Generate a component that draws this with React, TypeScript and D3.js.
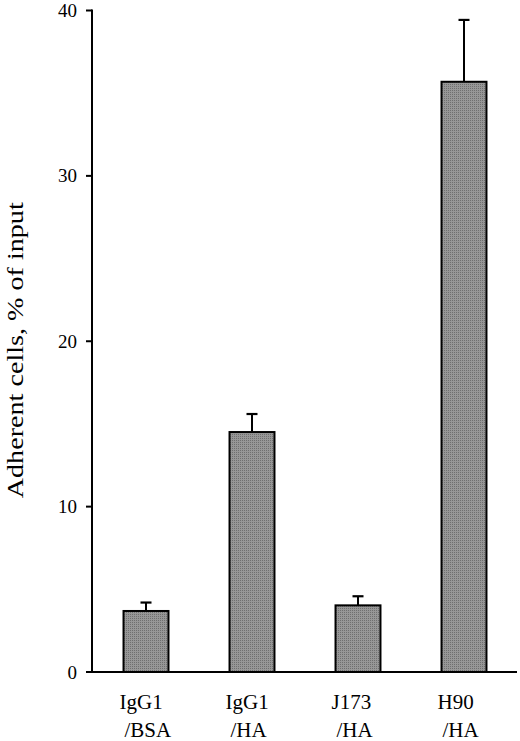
import React from "react";
import * as d3 from "d3";

const categories = ["IgG1/BSA", "IgG1/HA", "J173/HA", "H90/HA"];
const labelLine1 = ["IgG1", "IgG1", "J173", "H90"];
const labelLine2 = ["/BSA", "/HA", "/HA", "/HA"];
const means = [3.69, 14.51, 4.03, 35.69];
const errTops = [4.2, 15.6, 4.58, 39.43];
const yTicks = [0, 10, 20, 30, 40];
const yTitle = "Adherent cells, % of input";

const W = 520;
const H = 741;
const FONT = "'Liberation Serif', 'Times New Roman', serif";

export default function App() {
  const y = d3.scaleLinear().domain([0, 40]).range([672, 10.5]);
  const x = d3
    .scaleBand<string>()
    .domain(categories)
    .range([93, 517])
    .paddingInner(0.557)
    .paddingOuter(0.2785);
  const bw = x.bandwidth();
  const axisX = 92;

  return (
    <svg
      width={W}
      height={H}
      style={{ position: "absolute", left: 0, top: 0, background: "#fff" }}
      fontFamily={FONT}
    >
      <defs>
        <pattern id="grain" width="2" height="2" patternUnits="userSpaceOnUse">
          <rect width="2" height="2" fill="#979797" />
          <rect width="1" height="1" fill="#6f6f6f" />
        </pattern>
      </defs>
      <rect width={W} height={H} fill="#fff" />

      {/* bars */}
      {categories.map((c, i) => {
        const x0 = x(c)!;
        const top = y(means[i]);
        const cx = x0 + bw / 2;
        return (
          <g key={c}>
            <line x1={cx} x2={cx} y1={top} y2={y(errTops[i])} stroke="#000" strokeWidth={2} />
            <line x1={cx - 5.5} x2={cx + 5.5} y1={y(errTops[i])} y2={y(errTops[i])} stroke="#000" strokeWidth={2.2} />
            <rect
              x={x0 + 1}
              y={top}
              width={bw - 2}
              height={y(0) - top}
              fill="url(#grain)"
              stroke="#000"
              strokeWidth={2}
            />
          </g>
        );
      })}

      {/* y axis */}
      <line x1={axisX} x2={axisX} y1={y(40) - 1} y2={y(0)} stroke="#000" strokeWidth={2} />
      {yTicks.map((t) => (
        <g key={t}>
          <line x1={axisX - 6} x2={axisX} y1={y(t)} y2={y(t)} stroke="#000" strokeWidth={2} />
          <text x={77} y={y(t) + 6.5} textAnchor="end" fontSize={19} fill="#000">
            {t}
          </text>
        </g>
      ))}

      {/* x axis */}
      <line x1={axisX - 1} x2={517} y1={y(0)} y2={y(0)} stroke="#000" strokeWidth={2} />

      {/* x labels */}
      {categories.map((c, i) => {
        const x0 = x(c)!;
        return (
          <g key={"l" + c} fontSize={21} fill="#000">
            <text x={x0 - 3} y={708.5}>{labelLine1[i]}</text>
            <text x={x0 + 2} y={736.5}>{labelLine2[i]}</text>
          </g>
        );
      })}

      {/* y title */}
      <text
        transform={`translate(23, ${y(20) + 9}) rotate(-90)`}
        textAnchor="middle"
        fontSize={24}
        textLength={296}
        lengthAdjust="spacingAndGlyphs"
        fill="#000"
      >
        {yTitle}
      </text>
    </svg>
  );
}
